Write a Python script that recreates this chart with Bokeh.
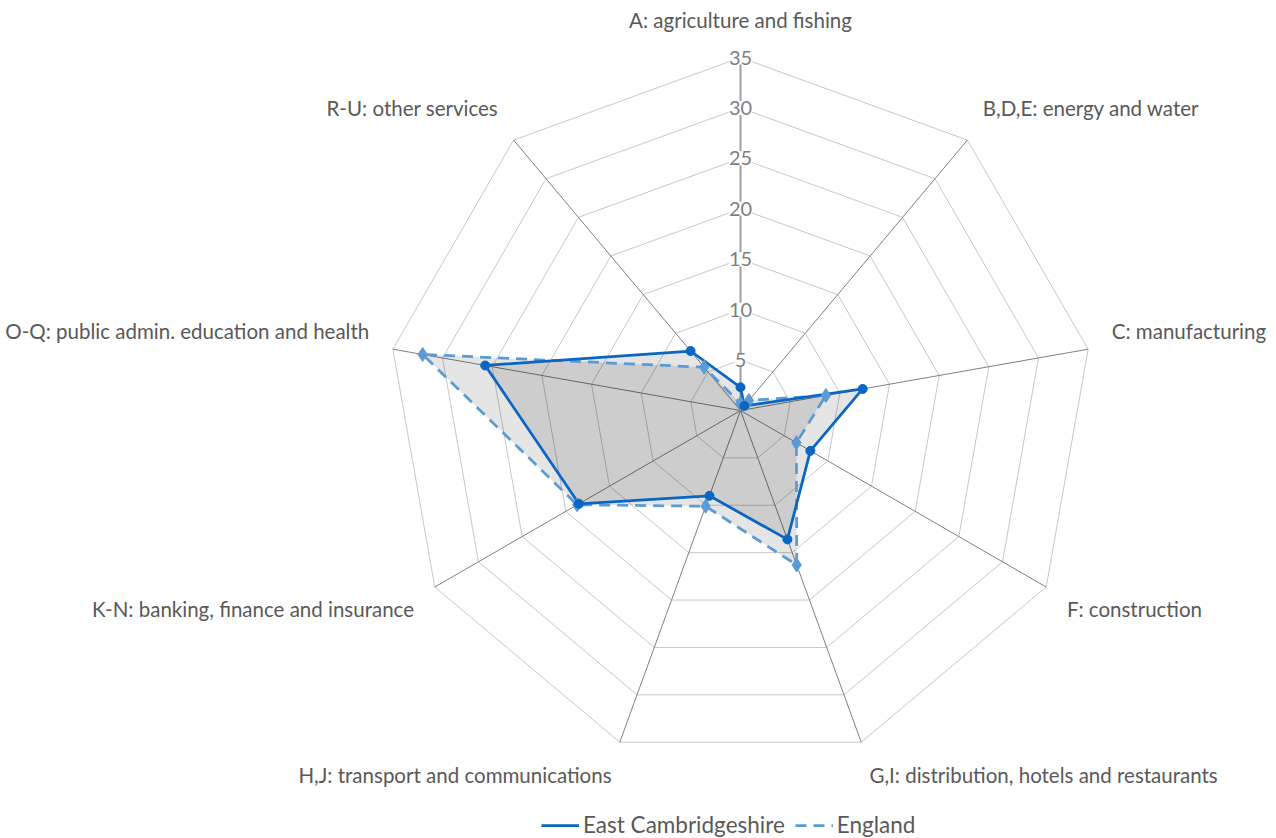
import numpy as np
from bokeh.plotting import figure
from bokeh.models import Range1d, ColumnDataSource, LabelSet, Legend, LegendItem, Label
from bokeh.core.properties import value
from bokeh.embed import file_html
from bokeh.resources import INLINE

categories = ["A: agriculture and fishing", "B,D,E: energy and water", "C: manufacturing",
              "F: construction", "G,I: distribution, hotels and restaurants",
              "H,J: transport and communications", "K-N: banking, finance and insurance",
              "O-Q: public admin. education and health", "R-U: other services"]
east_cambs = [2.3, 0.6, 12.3, 8.0, 13.6, 9.0, 18.5, 25.7, 7.7]
england = [0.7, 1.3, 8.6, 6.4, 16.3, 10.1, 18.7, 32.0, 5.6]
ticks = [5, 10, 15, 20, 25, 30, 35]
series_names = ["East Cambridgeshire", "England"]

W, H = 1276, 838
s = 353 / 35.0          # px per unit
cx, cy = 740, 410        # centre in figure px (from top-left)
x0 = -cx / s
x1 = (W - cx) / s
y1 = cy / s
y0 = -(H - cy) / s

FONT = "Lato"
n = len(categories)
ang = np.deg2rad(90 - 360.0 / n * np.arange(n))

p = figure(width=W, height=H, output_backend="svg", toolbar_location=None,
           x_range=Range1d(x0, x1), y_range=Range1d(y0, y1), min_border=0)
p.axis.visible = False
p.grid.visible = False
p.outline_line_color = None
p.background_fill_color = "white"

# grid polygons
for t in ticks:
    xs = list(t * np.cos(ang)) + [t * np.cos(ang[0])]
    ys = list(t * np.sin(ang)) + [t * np.sin(ang[0])]
    p.line(xs, ys, line_color="#c8c8c8", line_width=1)

rmax = ticks[-1]
# spokes
for a in ang[1:]:
    p.line([0, rmax * np.cos(a)], [0, rmax * np.sin(a)], line_color="#7f7f7f", line_width=1)

def poly(vals):
    v = np.array(vals)
    return list(v * np.cos(ang)), list(v * np.sin(ang))

ex, ey = poly(east_cambs)
gx, gy = poly(england)

p.patch(gx, gy, fill_color="black", fill_alpha=0.10, line_color=None)
p.patch(ex, ey, fill_color="black", fill_alpha=0.10, line_color=None)

# radial axis along first spoke
p.line([0, 0], [0, rmax], line_color="#a0a0a0", line_width=2)

c_east = "#0A66C2"
c_eng = "#5B9BD5"
r_eng = p.line(gx + [gx[0]], gy + [gy[0]], line_color=c_eng, line_width=2.75, line_dash="11 7")
r_east = p.line(ex + [ex[0]], ey + [ey[0]], line_color=c_east, line_width=2.75)
p.scatter(gx, gy, marker="diamond", size=14, fill_color=c_eng, line_color=c_eng)
p.scatter(ex, ey, marker="circle", size=9, fill_color=c_east, line_color=c_east)

# tick labels
tsrc = ColumnDataSource(dict(x=[0] * len(ticks), y=ticks, t=[str(t) for t in ticks]))
p.add_layout(LabelSet(x="x", y="y", text="t", source=tsrc, text_align="center",
                      text_baseline="middle", text_font=value(FONT), text_font_size="20px",
                      text_color="#7f7f7f", background_fill_color="white",
                      background_fill_alpha=1.0))

# category labels
rl = 377 / s
for i, c in enumerate(categories):
    ca, sa = np.cos(ang[i]), np.sin(ang[i])
    lx = rl * ca
    ly = rl * sa + (14 / s if sa > 0.01 else -10 / s)
    if abs(ca) < 0.01:
        al = "center"
    elif ca > 0:
        al = "left"
    else:
        al = "right"
    p.add_layout(Label(x=lx, y=ly, text=c, text_align=al, text_baseline="middle",
                       text_font=FONT, text_font_size="20.5px", text_color="#595959"))

legend = Legend(items=[LegendItem(label=series_names[0], renderers=[r_east]),
                       LegendItem(label=series_names[1], renderers=[r_eng])],
                orientation="horizontal", location=(541, 0), padding=0, margin=0,
                spacing=10, glyph_width=38, glyph_height=24, label_height=24,
                label_standoff=4, label_text_font=FONT, label_text_font_size="22.5px",
                label_text_color="#595959", border_line_color=None,
                background_fill_alpha=0)
p.add_layout(legend)

open("out.html", "w").write(file_html(p, INLINE))
